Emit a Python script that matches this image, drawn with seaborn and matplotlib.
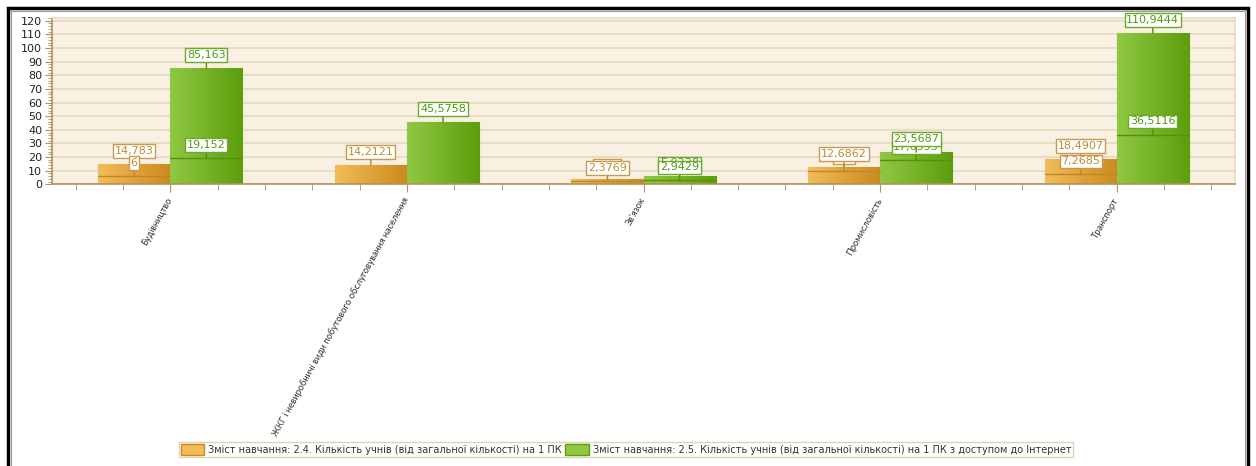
import numpy as np
import pandas as pd
import matplotlib
matplotlib.use("Agg")
import matplotlib.pyplot as plt
import seaborn as sns
from matplotlib.colors import LinearSegmentedColormap
from matplotlib.patches import Rectangle, Patch
from matplotlib.ticker import MultipleLocator

# --- data ---
categories = ["Будівництво",
              "ЖКГ і невиробничі види побутового обслуговування населення",
              "Зв'язок", "Промисловість", "Транспорт"]
series = ["Зміст навчання: 2.4. Кількість учнів (від загальної кількості) на 1 ПК",
          "Зміст навчання: 2.5. Кількість учнів (від загальної кількості) на 1 ПК з доступом до Інтернет"]
pc_values = [14.783, 14.2121, 3.96, 12.6862, 18.4907]
pc_inner = [6, np.nan, 2.3769, 9.9, 7.2685]
net_values = [85.163, 45.5758, 5.9228, 23.5687, 110.9444]
net_inner = [19.152, np.nan, 2.9429, 17.6593, 36.5116]
inner_on_top = [True, True, True, False, True]

df = pd.DataFrame({
    "category": categories * 2,
    "series": [series[0]] * 5 + [series[1]] * 5,
    "value": pc_values + net_values,
})

orange = ["#f2bc58", "#cc8a1e"]
green = ["#8fc843", "#5d9e0c"]
text_col = ["#c48a2c", "#4f9a12"]
edge_col = ["#c89a50", "#6aaa28"]
line_col = ["#c0862a", "#56900e"]

sns.set_style("white")
plt.rcParams["font.family"] = ["DejaVu Sans"]

fig = plt.figure(figsize=(12.56, 4.66), dpi=100)
ax = fig.add_axes([52 / 1256, 1 - 184.3 / 466, (1235 - 52) / 1256, (184.3 - 18) / 466])

sns.barplot(data=df, x="category", y="value", hue="series",
            palette=[orange[1], green[1]], width=0.61, gap=0,
            ax=ax, legend=False, saturation=1)

ax.set_xlim(-0.5, 4.5)
ax.set_ylim(0, 122)
ax.set_facecolor("#f8f0e3")
ax.yaxis.set_major_locator(MultipleLocator(10))
ax.yaxis.set_minor_locator(MultipleLocator(2))
ax.xaxis.set_minor_locator(MultipleLocator(0.2))
ax.grid(axis="y", color="#e8dcc4", lw=1.4)
ax.set_axisbelow(True)
ax.set_xlabel("")
ax.set_ylabel("")

for s in ["top", "right"]:
    ax.spines[s].set_color("#eadcc0")
    ax.spines[s].set_linewidth(1.2)
for s in ["left", "bottom"]:
    ax.spines[s].set_color("#b0925a")
    ax.spines[s].set_linewidth(1.2)

ax.tick_params(axis="y", which="major", length=5, color="#b0925a", labelsize=8,
               labelcolor="#222222", pad=2, left=True)
ax.tick_params(axis="y", which="minor", length=3, color="#b0925a", left=True)
ax.tick_params(axis="x", which="major", length=6, color="#b0925a", bottom=True, pad=4)
ax.tick_params(axis="x", which="minor", length=4, color="#b0925a", bottom=True)
ax.set_xticks(range(len(categories)))
ax.set_xticklabels(categories, rotation=61, ha="right", va="center",
                   rotation_mode="anchor", fontsize=6.7,
                   family="Lato", color="#333333")

# gradient fill of the bars
grad = np.linspace(0, 1, 64).reshape(1, -1)
cmaps = [LinearSegmentedColormap.from_list("o", orange),
         LinearSegmentedColormap.from_list("g", green)]
for k, cont in enumerate(ax.containers):
    for bar in cont:
        x0, y0 = bar.get_x(), bar.get_y()
        w, h = bar.get_width(), bar.get_height()
        bar.set_edgecolor(edge_col[k])
        bar.set_linewidth(0.8)
        im = ax.imshow(grad, extent=[x0, x0 + w, y0, y0 + h], aspect="auto",
                       cmap=cmaps[k], zorder=bar.get_zorder() + 0.1)
        im.set_clip_path(bar)
ax.set_xlim(-0.5, 4.5)
ax.set_ylim(0, 122)


def fmt(v):
    return ("%.4f" % v).rstrip("0").rstrip(".").replace(".", ",")


def label(x, v, k, z):
    ax.annotate(fmt(v), xy=(x, v), xytext=(0, 5.8), textcoords="offset points",
                ha="center", va="bottom", fontsize=8, color=text_col[k], zorder=z,
                bbox=dict(boxstyle="square,pad=0.15", fc="white", ec=edge_col[k], lw=1),
                arrowprops=dict(arrowstyle="-", color=line_col[k], lw=1,
                                shrinkA=0, shrinkB=0))


mains = [pc_values, net_values]
inners = [pc_inner, net_inner]
for k, cont in enumerate(ax.containers):
    for i, bar in enumerate(cont):
        xc = bar.get_x() + bar.get_width() / 2
        inn = inners[k][i]
        if not np.isnan(inn):
            ax.plot([bar.get_x(), bar.get_x() + bar.get_width()], [inn, inn],
                    color=line_col[k], lw=1, zorder=5)
        z_main, z_inn = (6, 7) if inner_on_top[i] else (7, 6)
        label(xc, mains[k][i], k, z_main)
        if not np.isnan(inn):
            label(xc, inn, k, z_inn)

# legend
handles = [Patch(facecolor=orange[0], edgecolor=orange[1]),
           Patch(facecolor=green[0], edgecolor=green[1])]
leg = fig.legend(handles, series, loc="center", bbox_to_anchor=(626 / 1256, 1 - 449.5 / 466),
                 ncol=2, fontsize=7.0, frameon=True, fancybox=False,
                 handlelength=2.4, handleheight=1.3, handletextpad=0.4,
                 columnspacing=0.4, borderpad=0.2, borderaxespad=0)
leg.get_frame().set_edgecolor("#d8c8a0")
leg.get_frame().set_linewidth(1)
for t in leg.get_texts():
    t.set_color("#333333")

# outer frame
fig.patches.append(Rectangle((8 / 1256, -0.1), 1240 / 1256, 1.1 - 8 / 466, fill=False,
                             ec="black", lw=2.5, transform=fig.transFigure, figure=fig))
fig.patches.append(Rectangle((11 / 1256, -0.1), 1234 / 1256, 1.1 - 11 / 466, fill=False,
                             ec="#a89888", lw=0.8, transform=fig.transFigure, figure=fig))

fig.savefig("out.png", dpi=100)
